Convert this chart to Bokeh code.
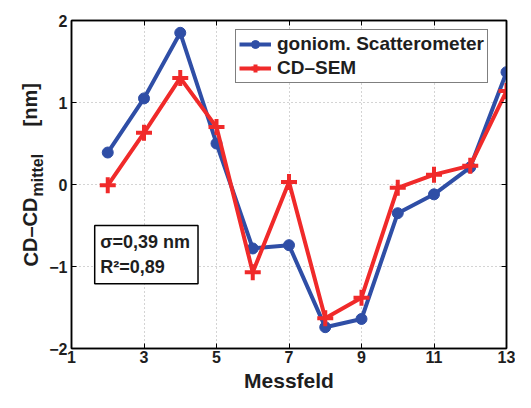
from bokeh.plotting import figure
from bokeh.models import (Label, BoxAnnotation, Legend, LegendItem, LinearAxis,
                          FixedTicker, Range1d)
from bokeh.layouts import row, column
from bokeh.core.properties import value
from bokeh.embed import file_html
from bokeh.resources import INLINE

# ---- data ----
messfeld = [2, 3, 4, 5, 6, 7, 8, 9, 10, 11, 12, 13]
scatterometer = [0.39, 1.05, 1.85, 0.50, -0.78, -0.74, -1.74, -1.64, -0.35, -0.12, 0.21, 1.37]
cdsem = [-0.01, 0.63, 1.30, 0.70, -1.07, 0.03, -1.63, -1.38, -0.04, 0.12, 0.23, 1.14]
xticks = [1, 3, 5, 7, 9, 11, 13]
yticks = [-2, -1, 0, 1, 2]
ytick_labels = {-2: "\u22122", -1: "\u22121", 0: "0", 1: "1", 2: "2"}
series_names = ["goniom. Scatterometer", "CD\u2013SEM"]
stats_lines = ["\u03c3=0,39 nm", "R\u00b2=0,89"]
x_title = "Messfeld"
y_title_parts = ["CD\u2013CD", "mittel", "[nm]"]

FONT = "Liberation Sans"
BLUE = "#2f4ea6"
RED = "#f02a2a"
TXT = "#1e1e1e"

LEFT_W = 46
MAIN_W = 469
MAIN_H = 368
BOT_H = 24
H = MAIN_H + BOT_H

x_range = Range1d(1, 13)
p = figure(width=MAIN_W, height=MAIN_H, output_backend="svg", toolbar_location=None,
           x_range=x_range, y_range=Range1d(-2, 2),
           min_border_left=25, min_border_right=9, min_border_top=20,
           min_border_bottom=20)
p.background_fill_color = "white"
p.border_fill_color = "white"
p.outline_line_color = "black"
p.outline_line_width = 1.5
p.outline_line_alpha = 1

for ax in p.xaxis + p.yaxis:
    ax.major_tick_in = 5
    ax.major_tick_out = 0
    ax.minor_tick_line_color = None
    ax.axis_line_color = "black"
    ax.axis_line_width = 1.5
    ax.major_tick_line_width = 1
    ax.major_label_text_font = FONT
    ax.major_label_text_font_style = "bold"
    ax.major_label_text_font_size = "16px"
    ax.major_label_text_color = TXT
p.xaxis.ticker = FixedTicker(ticks=xticks)
p.yaxis.ticker = FixedTicker(ticks=yticks)
p.yaxis.major_label_overrides = ytick_labels
p.xaxis.major_label_standoff = 2
p.yaxis.major_label_standoff = 4

top_ax = LinearAxis(ticker=FixedTicker(ticks=xticks),
                    major_label_overrides={t: "" for t in xticks},
                    major_tick_in=5, major_tick_out=0, minor_tick_line_color=None,
                    axis_line_color="black", axis_line_width=1.5)
right_ax = LinearAxis(ticker=FixedTicker(ticks=yticks),
                      major_label_overrides={t: "" for t in yticks},
                      major_tick_in=5, major_tick_out=0, minor_tick_line_color=None,
                      axis_line_color="black", axis_line_width=1.5)
p.add_layout(top_ax, "above")
p.add_layout(right_ax, "right")

p.xgrid.ticker = FixedTicker(ticks=xticks)
p.ygrid.ticker = FixedTicker(ticks=yticks)
for g in (p.xgrid, p.ygrid):
    g.grid_line_color = "#a8a8a8"
    g.grid_line_dash = "1 3"
    g.grid_line_width = 1

# series
l1 = p.line(messfeld, scatterometer, line_color=BLUE, line_width=4)
s1 = p.scatter(messfeld, scatterometer, marker="circle", size=11,
               fill_color=BLUE, line_color=BLUE)
l2 = p.line(messfeld, cdsem, line_color=RED, line_width=4)
s2 = p.scatter(messfeld, cdsem, marker="cross", size=16, line_color=RED,
               line_width=4)

legend = Legend(items=[LegendItem(label=series_names[0], renderers=[l1, s1]),
                       LegendItem(label=series_names[1], renderers=[l2, s2])],
                location=(164, 265), orientation="vertical")
legend.label_text_font = FONT
legend.label_text_font_style = "bold"
legend.label_text_font_size = "19px"
legend.label_text_color = TXT
legend.glyph_width = 32
legend.glyph_height = 20
legend.label_height = 20
legend.label_standoff = 6
legend.spacing = 2
legend.padding = 3
legend.margin = 0
legend.border_line_color = "black"
legend.border_line_width = 1.5
legend.background_fill_color = "white"
legend.background_fill_alpha = 1
p.add_layout(legend, "center")

# statistics box
box = BoxAnnotation(left=1.64, right=4.49, top=-0.50, bottom=-1.21,
                    fill_color="white", fill_alpha=1, line_color="black",
                    line_width=1.5, line_alpha=1)
p.add_layout(box)
p.add_layout(Label(x=1.79, y=-0.70, text=stats_lines[0], text_font=FONT,
                   text_font_style="bold", text_font_size="18px",
                   text_baseline="middle", text_align="left", text_color=TXT))
p.add_layout(Label(x=1.79, y=-1.01, text=stats_lines[1], text_font=FONT,
                   text_font_style="bold", text_font_size="18px",
                   text_baseline="middle", text_align="left", text_color=TXT))

# ---- helper strips for axis titles ----
def strip_fig(w, h, xr, yr, mbl=0, mbr=0):
    f = figure(width=w, height=h, output_backend="svg", toolbar_location=None,
               x_range=xr, y_range=yr, x_axis_location=None, y_axis_location=None,
               min_border_left=mbl, min_border_right=mbr, min_border_top=0,
               min_border_bottom=0)
    f.outline_line_color = None
    f.xgrid.visible = False
    f.ygrid.visible = False
    f.background_fill_color = "white"
    f.border_fill_color = "white"
    return f

left = strip_fig(LEFT_W, H, Range1d(0, LEFT_W), Range1d(0, H))
left.text(x=[30], y=[H - 266], text=[y_title_parts[0]], angle=1.5708,
          text_font=value(FONT), text_font_style="bold", text_font_size="20px",
          text_align="left", text_baseline="middle", text_color=TXT)
left.text(x=[37], y=[H - 196], text=[y_title_parts[1]], angle=1.5708,
          text_font=value(FONT), text_font_style="bold", text_font_size="16px",
          text_align="left", text_baseline="middle", text_color=TXT)
left.text(x=[30], y=[H - 126], text=[y_title_parts[2]], angle=1.5708,
          text_font=value(FONT), text_font_style="bold", text_font_size="20px",
          text_align="left", text_baseline="middle", text_color=TXT)

bottom = strip_fig(MAIN_W, BOT_H, x_range, Range1d(0, BOT_H), mbl=25, mbr=9)
bottom.text(x=[7], y=[12], text=[x_title], text_font=value(FONT),
            text_font_style="bold", text_font_size="21px", text_align="center",
            text_baseline="middle", text_color=TXT)

layout = row(left, column(p, bottom, spacing=0), spacing=0)

open("out.html", "w").write(file_html(layout, INLINE))
